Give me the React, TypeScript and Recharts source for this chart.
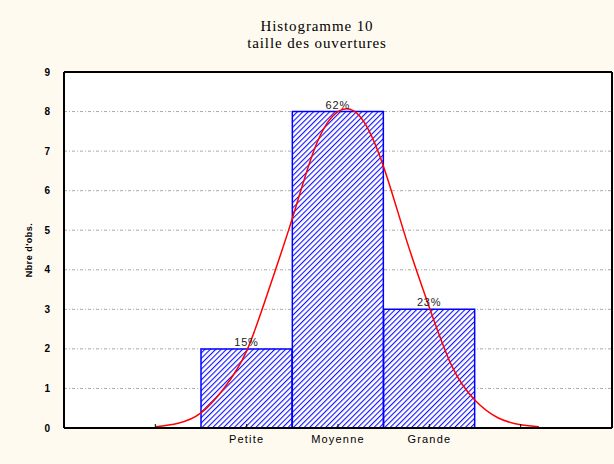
import React from 'react';
import {
  ComposedChart, Bar, Line, XAxis, YAxis, CartesianGrid, LabelList,
} from 'recharts';

// histogram classes (x position = class index)
const classes = ['Petite', 'Moyenne', 'Grande'];
const classPos = [1, 2, 3];
const counts = [2, 8, 3];
const percents = ['15%', '62%', '23%'];

// fitted normal curve
const curveX = [0, 0.25, 0.5, 0.75, 1, 1.25, 1.5, 1.75, 2, 2.25, 2.5, 2.75, 3, 3.25, 3.5, 3.75, 4, 4.2];
const curveY = [0.03, 0.12, 0.38, 1.0, 1.95, 3.55, 5.3, 7.1, 8.0, 7.85, 6.6, 4.75, 3.05, 1.55, 0.7, 0.26, 0.08, 0.03];

const yTicks = [0, 1, 2, 3, 4, 5, 6, 7, 8, 9];
const frameTicks = [0, 1, 2, 3, 4];

const bars = classes.map((c, i) => ({ x: classPos[i], n: counts[i], pct: percents[i] }));
const curve = curveX.map((x, i) => ({ x, y: curveY[i] }));

const xLabel = (v: number) => {
  const i = classPos.indexOf(v);
  return i >= 0 ? classes[i] : '';
};

export default function App() {
  return (
    <div style={{ position: 'absolute', left: 0, top: 0, width: 614, height: 464, background: '#fffaf0' }}>
      <div style={{
        position: 'absolute', left: 0, width: 634, top: 18, textAlign: 'center',
        fontFamily: '"Liberation Serif", serif', fontSize: 15, lineHeight: '17px', letterSpacing: 0.9, color: '#000',
      }}>
        Histogramme 10<br />taille des ouvertures
      </div>
      <ComposedChart
        width={614}
        height={464}
        data={bars}
        margin={{ top: 72, right: 2, bottom: 6, left: 0 }}
        barCategoryGap={0}
        barGap={0}
        style={{ fontFamily: '"Liberation Sans", Arial, sans-serif' }}
      >
        <defs>
          <pattern id="hatch" patternUnits="userSpaceOnUse" width="3.8" height="3.8" patternTransform="rotate(45)">
            <rect width="3.8" height="3.8" fill="#ffffff" />
            <line x1="0" y1="0" x2="0" y2="3.8" stroke="#1010ff" strokeWidth="2.2" />
          </pattern>
        </defs>
        <CartesianGrid vertical={false} fill="#ffffff" stroke="#aaaaaa" strokeDasharray="3 2 1 2" xAxisId="main" yAxisId="left" />
        <XAxis
          xAxisId="main"
          dataKey="x"
          type="number"
          domain={[-1, 5]}
          allowDataOverflow
          ticks={frameTicks}
          tickFormatter={xLabel}
          height={30}
          tickSize={4}
          tickLine={{ stroke: '#000', transform: 'translate(0,-4)' }}
          tickMargin={3}
          axisLine={{ stroke: '#000', strokeWidth: 2 }}
          tick={{ fontSize: 11, fill: '#000', letterSpacing: 1.2 }}
        />
        <XAxis
          xAxisId="top"
          orientation="top"
          type="number"
          domain={[-1, 5]}
          allowDataOverflow
          ticks={frameTicks}
          mirror
          height={1}
          tickSize={4}
          tick={false}
          tickLine={{ stroke: '#000' }}
          axisLine={{ stroke: '#000', strokeWidth: 2 }}
        />
        <XAxis xAxisId="curve" orientation="top" height={0} dataKey="x" type="number" domain={[-1, 5]} allowDataOverflow hide />
        <YAxis
          yAxisId="left"
          domain={[0, 9]}
          ticks={yTicks}
          width={64}
          tickLine={false}
          tickMargin={8}
          axisLine={{ stroke: '#000', strokeWidth: 2 }}
          tick={{ fontSize: 10, fill: '#000', fontWeight: 'bold' }}
          label={{ value: "Nbre d'obs.", angle: -90, position: 'center', dx: -3, style: { fontSize: 9, fontWeight: 'bold', fill: '#000', letterSpacing: 0.5 } }}
        />
        <YAxis
          yAxisId="right"
          orientation="right"
          domain={[0, 9]}
          ticks={yTicks}
          mirror
          width={1}
          tickSize={4}
          tick={false}
          tickLine={{ stroke: '#000' }}
          axisLine={{ stroke: '#000', strokeWidth: 2 }}
        />
        <Bar
          xAxisId="main"
          yAxisId="left"
          dataKey="n"
          fill="url(#hatch)"
          stroke="#0000ff"
          strokeWidth={1.5}
          isAnimationActive={false}
        >
          <LabelList dataKey="pct" position="top" offset={3} style={{ fontSize: 11, fill: '#222', letterSpacing: 0.8 }} />
        </Bar>
        <Line
          xAxisId="curve"
          yAxisId="left"
          data={curve}
          dataKey="y"
          type="natural"
          stroke="#ff0000"
          strokeWidth={1.5}
          dot={false}
          activeDot={false}
          isAnimationActive={false}
        />
      </ComposedChart>
    </div>
  );
}
